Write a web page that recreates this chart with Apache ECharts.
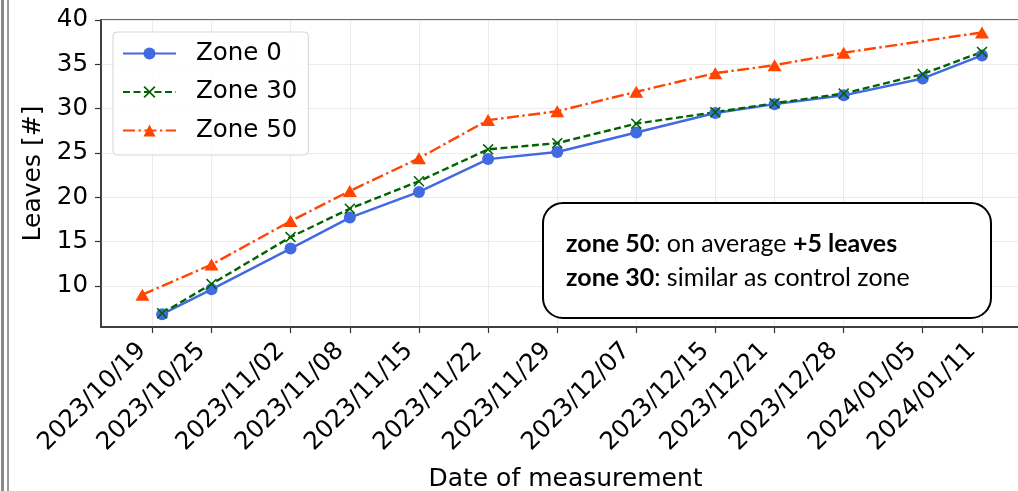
<!DOCTYPE html>
<html>
<head>
<meta charset="utf-8">
<script src="https://cdn.jsdelivr.net/npm/echarts@6/dist/echarts.min.js"></script>
<style>
  html, body { margin: 0; padding: 0; background: #fff; }
  #chart-main { width: 1018px; height: 491px; }
</style>
</head>
<body>
<div id="chart-main"></div>
<script>
// tick dates shown on the x axis
const tickDates = ['2023/10/19', '2023/10/25', '2023/11/02', '2023/11/08', '2023/11/15', '2023/11/22',
  '2023/11/29', '2023/12/07', '2023/12/15', '2023/12/21', '2023/12/28', '2024/01/05', '2024/01/11'];
const yTicks = [10, 15, 20, 25, 30, 35, 40];

const zone0Dates = ['2023/10/20', '2023/10/25', '2023/11/02', '2023/11/08', '2023/11/15', '2023/11/22',
  '2023/11/29', '2023/12/07', '2023/12/15', '2023/12/21', '2023/12/28', '2024/01/05', '2024/01/11'];
const zone0 = [6.8, 9.6, 14.2, 17.7, 20.6, 24.3, 25.1, 27.3, 29.5, 30.5, 31.5, 33.4, 36.0];
const zone30Dates = zone0Dates;
const zone30 = [6.9, 10.2, 15.5, 18.7, 21.8, 25.4, 26.1, 28.3, 29.6, 30.6, 31.7, 33.9, 36.4];
const zone50Dates = ['2023/10/18', '2023/10/25', '2023/11/02', '2023/11/08', '2023/11/15', '2023/11/22',
  '2023/11/29', '2023/12/07', '2023/12/15', '2023/12/21', '2023/12/28', '2024/01/11'];
const zone50 = [9.0, 12.4, 17.3, 20.7, 24.4, 28.7, 29.7, 31.9, 34.0, 34.9, 36.3, 38.6];

function toTime(s) {
  const p = s.split('/');
  return new Date(+p[0], +p[1] - 1, +p[2]).getTime();
}
function pad(n) { return n < 10 ? '0' + n : '' + n; }
function fmtDate(v) {
  const d = new Date(v);
  return d.getFullYear() + '/' + pad(d.getMonth() + 1) + '/' + pad(d.getDate());
}
function pairs(dates, vals) {
  return dates.map((d, i) => [toTime(d), vals[i]]);
}

const DAY = 86400000;
const font = 'DejaVu Sans';
const tickTimes = tickDates.map(toTime);

let myChart = echarts.init(document.getElementById('chart-main'));
let option = {
  animation: false,
  backgroundColor: '#fff',
  // the plot runs past the right edge of the picture (it is cropped there)
  grid: {
    left: 101, right: -12, top: 20, bottom: 164,
    outerBoundsMode: 'none',
    show: true, borderColor: '#333', borderWidth: 1.5
  },
  legend: {
    orient: 'vertical',
    left: 113, top: 32,
    padding: [9, 11, 12, 9],
    itemWidth: 53, itemHeight: 15, itemGap: 13.5,
    backgroundColor: 'rgba(255,255,255,0.85)',
    borderColor: '#d5d5d5', borderWidth: 1, borderRadius: 4,
    textStyle: { fontFamily: font, fontSize: 24.5, color: '#000', lineHeight: 24, padding: [0, 0, 0, 15] },
    data: ['Zone 0', 'Zone 30', 'Zone 50']
  },
  xAxis: {
    type: 'value',
    min: toTime('2023/10/19') - 5.19 * DAY,
    max: toTime('2024/01/11') + 4.86 * DAY,
    name: 'Date of measurement',
    nameLocation: 'middle',
    nameGap: 140,
    nameTextStyle: { fontFamily: font, fontSize: 25, color: '#000' },
    axisLine: { lineStyle: { color: '#333', width: 1.5 } },
    axisTick: { show: true, customValues: tickTimes, length: 6, lineStyle: { color: '#333', width: 1.2 } },
    axisLabel: {
      customValues: tickTimes,
      formatter: fmtDate,
      rotate: 45, margin: 10, padding: [0, 14, 0, 0],
      fontFamily: font, fontSize: 24.5, color: '#000'
    },
    splitLine: { show: true, lineStyle: { color: '#ebebeb', width: 1 } }
  },
  yAxis: {
    type: 'value',
    min: 5.35, max: 40,
    name: 'Leaves [#]',
    nameLocation: 'middle',
    nameGap: 52,
    nameTextStyle: { fontFamily: font, fontSize: 25, color: '#000' },
    axisLine: { show: true, lineStyle: { color: '#333', width: 1.5 } },
    axisTick: { show: true, customValues: yTicks, length: 6, lineStyle: { color: '#333', width: 1.2 } },
    axisLabel: { customValues: yTicks, margin: 13, fontFamily: font, fontSize: 24.5, color: '#000' },
    splitLine: { show: true, lineStyle: { color: '#ebebeb', width: 1 } }
  },
  series: [
    {
      name: 'Zone 0', type: 'line',
      data: pairs(zone0Dates, zone0),
      symbol: 'circle', symbolSize: 12,
      itemStyle: { color: '#4169e1' },
      lineStyle: { color: '#4169e1', width: 2.4 },
      emphasis: { disabled: true }
    },
    {
      name: 'Zone 30', type: 'line',
      data: pairs(zone30Dates, zone30),
      symbol: 'path://M0,1L1,0L5,4L9,0L10,1L6,5L10,9L9,10L5,6L1,10L0,9L4,5Z', symbolSize: 11,
      itemStyle: { color: '#006400' },
      lineStyle: { color: '#006400', width: 2.4, type: [7, 3.5] },
      emphasis: { disabled: true }
    },
    {
      name: 'Zone 50', type: 'line',
      data: pairs(zone50Dates, zone50),
      symbol: 'triangle', symbolSize: [14, 12],
      itemStyle: { color: '#ff4500' },
      lineStyle: { color: '#ff4500', width: 2.4, type: [12, 3.5, 2.4, 3.5] },
      emphasis: { disabled: true }
    }
  ],
  graphic: [
    // slide frame on the left
    { type: 'rect', shape: { x: 1, y: 0, width: 3, height: 491 }, style: { fill: '#8a8a8a' }, silent: true },
    { type: 'rect', shape: { x: 7, y: 0, width: 2, height: 491 }, style: { fill: '#9a9a9a' }, silent: true },
    // annotation box
    {
      type: 'rect', z: 100,
      shape: { x: 543, y: 203, width: 448, height: 115, r: 20 },
      style: { fill: '#fff', stroke: '#000', lineWidth: 2 }
    },
    {
      type: 'text', z: 101,
      x: 566, y: 261,
      style: {
        text: '{b|zone 50}: on average {b|+5 leaves}\n{b|zone 30}: similar as control zone',
        font: '25px Lato',
        fill: '#000',
        lineHeight: 34,
        verticalAlign: 'middle',
        rich: {
          b: { fontWeight: 'bold', fontFamily: 'Lato', fontSize: 25, fill: '#000', lineHeight: 34 }
        }
      }
    }
  ]
};
myChart.setOption(option);
</script>
</body>
</html>
